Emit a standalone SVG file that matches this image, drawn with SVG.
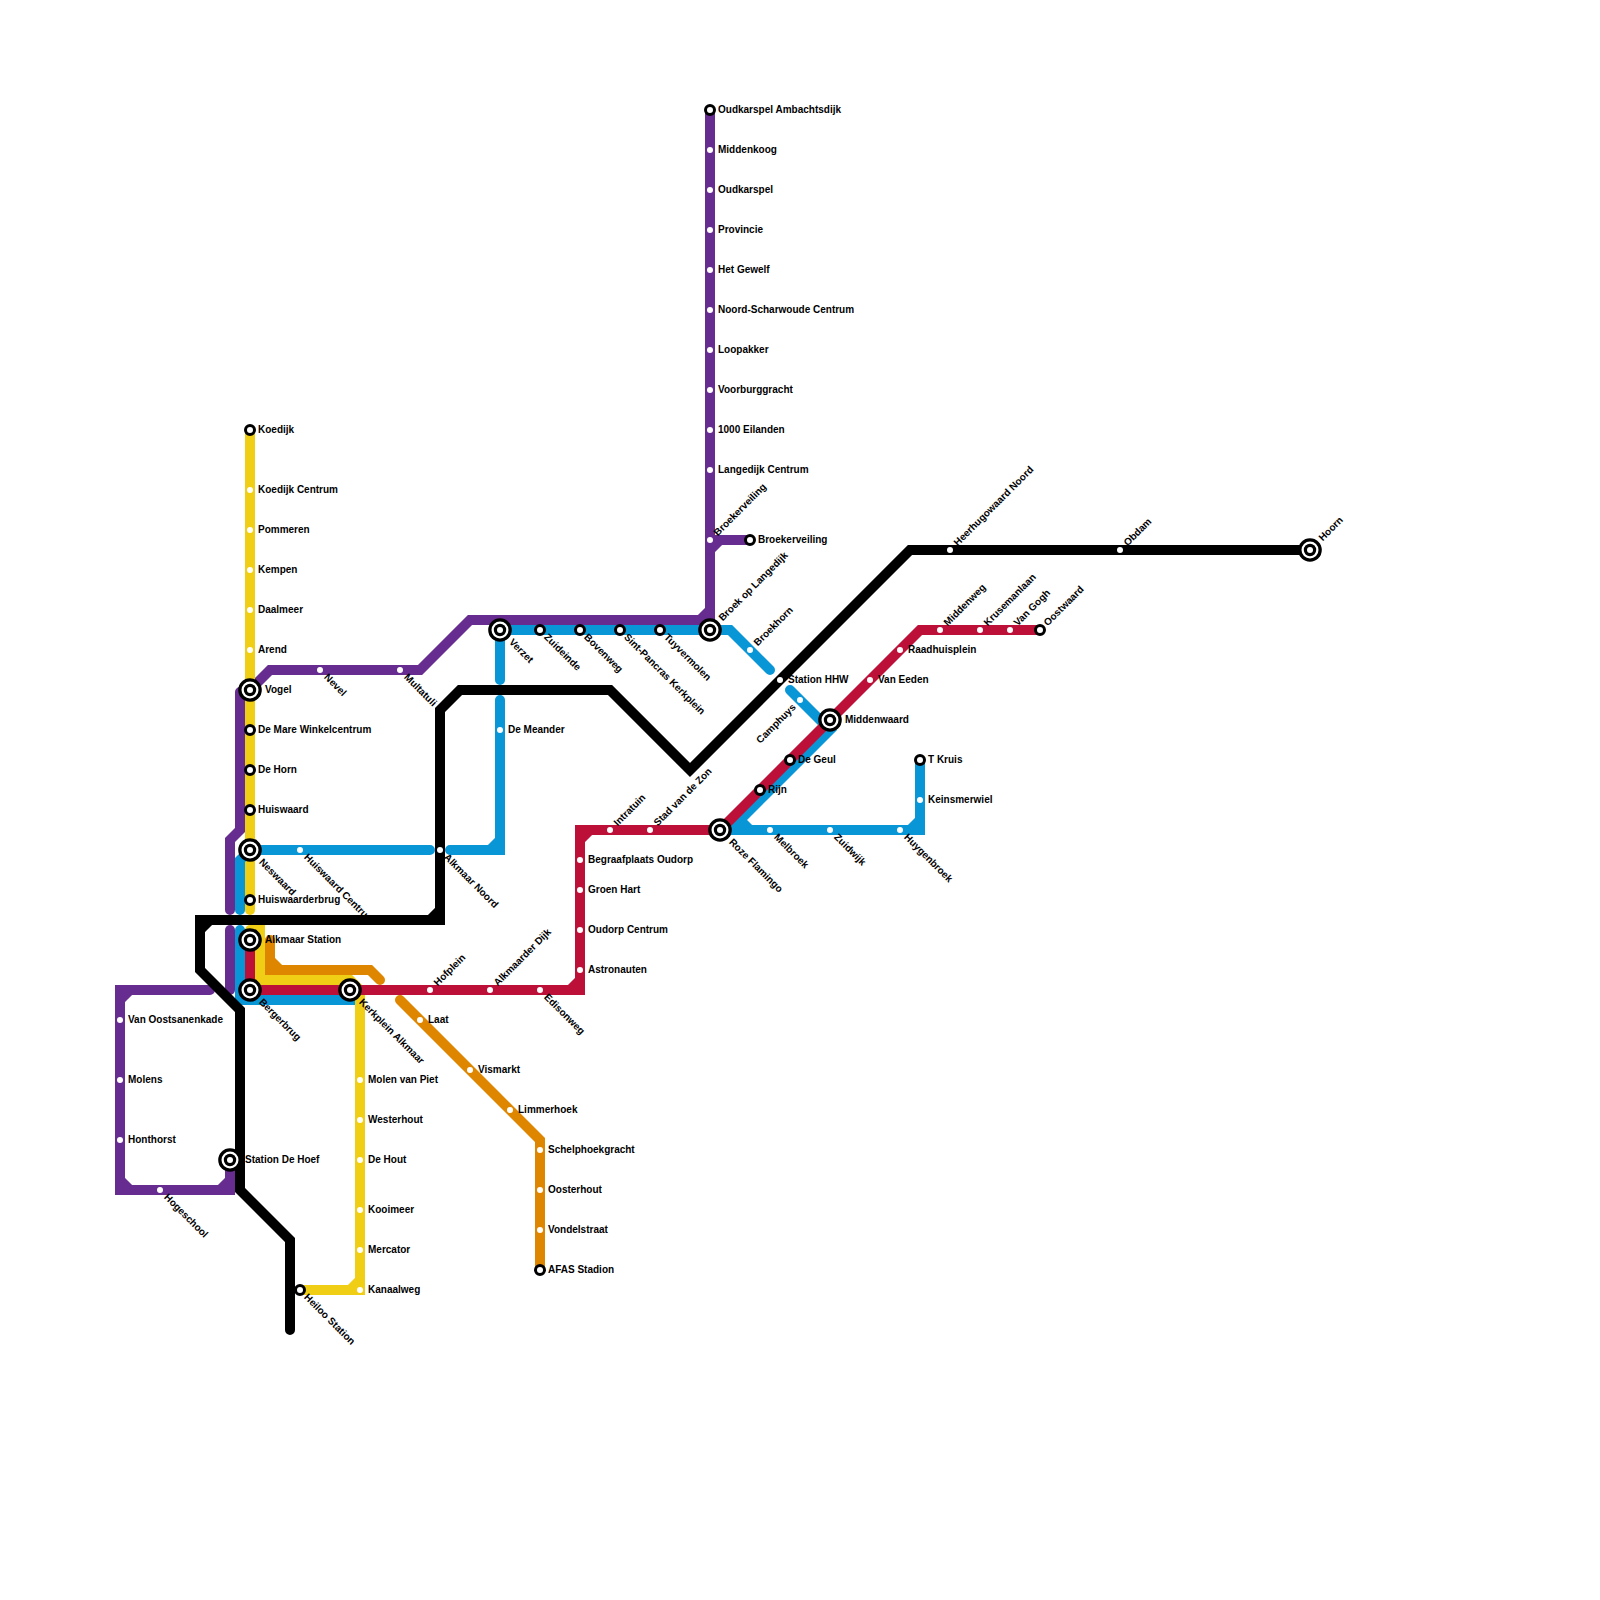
<svg xmlns="http://www.w3.org/2000/svg" width="1600" height="1600" viewBox="0 0 1600 1600">
<style>
.l{fill:none;stroke-width:10;stroke-linecap:round;stroke-linejoin:miter}
.pu{stroke:#662c90}.ye{stroke:#f0ce15}.bl{stroke:#0896d7}.re{stroke:#bd1038}.or{stroke:#df8600}.bk{stroke:#000}
text{font-family:"Liberation Sans",Arial,sans-serif;font-size:10px;font-weight:700;fill:#000}
.d{fill:#fff}
.r{fill:#fff;stroke:#000;stroke-width:3}
</style>
<defs>
<g id="hub"><circle r="11.8" fill="#000"/><circle r="8.5" fill="#fff"/><circle r="6.2" fill="#000"/><circle r="3" fill="#fff"/></g>
</defs>
<rect width="1600" height="1600" fill="#fff"/>
<g id="connectors">
<path class="l pu" d="M710 110V620H470L420 670H270L250 690M240 692V830L230 840V910M700 620L710 610"/>
<path class="l pu" d="M710 540H750M710 550L720 540"/>
<path class="l pu" d="M230 930V990"/>
<path class="l pu" d="M210 990H120V1190H230V1160M120 1000L130 990M120 1180L130 1190M220 1190L230 1180"/>
<path class="l ye" d="M250 430V910"/>
<path class="l ye" d="M250 930H260V980H350L360 990V1290H300M350 1290L360 1280"/>
<path class="l or" d="M270 940V970H370L380 980M270 960L280 970"/>
<path class="l or" d="M400 1000L540 1140V1270"/>
<path class="l bl" d="M430 850H250L240 860V910"/>
<path class="l bl" d="M240 930V1000H350V990"/>
<path class="l bl" d="M500 680V630H730L770 670"/>
<path class="l bl" d="M500 700V850H450M490 850L500 840"/>
<path class="l bl" d="M790 690L830 730L730 830M740 820L750 830M720 830H920V760M910 830L920 820"/>
<path class="l re" d="M250 940V990H580V830H720L830 720L920 630H1040M570 990L580 980M580 840L590 830"/>
<path class="l bk" d="M290 1330V1240L240 1190V1010L200 970V920H440V710L460 690H610L690 770L910 550H1310M200 930L210 920M430 920L440 910"/>
</g>
<g id="n01"><circle class="r" cx="710" cy="110" r="4.5"/><text x="718" y="113">Oudkarspel Ambachtsdijk</text></g>
<g id="n02"><circle class="d" cx="710" cy="150" r="3"/><text x="718" y="153">Middenkoog</text></g>
<g id="n03"><circle class="d" cx="710" cy="190" r="3"/><text x="718" y="193">Oudkarspel</text></g>
<g id="n04"><circle class="d" cx="710" cy="230" r="3"/><text x="718" y="233">Provincie</text></g>
<g id="n05"><circle class="d" cx="710" cy="270" r="3"/><text x="718" y="273">Het Gewelf</text></g>
<g id="n06"><circle class="d" cx="710" cy="310" r="3"/><text x="718" y="313">Noord-Scharwoude Centrum</text></g>
<g id="n07"><circle class="d" cx="710" cy="350" r="3"/><text x="718" y="353">Loopakker</text></g>
<g id="n08"><circle class="d" cx="710" cy="390" r="3"/><text x="718" y="393">Voorburggracht</text></g>
<g id="n09"><circle class="d" cx="710" cy="430" r="3"/><text x="718" y="433">1000 Eilanden</text></g>
<g id="n10"><circle class="d" cx="710" cy="470" r="3"/><text x="718" y="473">Langedijk Centrum</text></g>
<g id="n11"><circle class="d" cx="710" cy="540" r="3"/><text x="718" y="543" transform="rotate(-45 710 540)">Broekerveiling</text></g>
<g id="n12"><circle class="r" cx="750" cy="540" r="4.5"/><text x="758" y="543">Broekerveiling</text></g>
<g id="n13"><use href="#hub" x="710" y="630"/><text x="725" y="633" transform="rotate(-45 710 630)">Broek op Langedijk</text></g>
<g id="n14"><circle class="r" cx="660" cy="630" r="4.5"/><text x="668" y="633" transform="rotate(45 660 630)">Tuyvermolen</text></g>
<g id="n15"><circle class="r" cx="620" cy="630" r="4.5"/><text x="628" y="633" transform="rotate(45 620 630)">Sint-Pancras Kerkplein</text></g>
<g id="n16"><circle class="r" cx="580" cy="630" r="4.5"/><text x="588" y="633" transform="rotate(45 580 630)">Bovenweg</text></g>
<g id="n17"><circle class="r" cx="540" cy="630" r="4.5"/><text x="548" y="633" transform="rotate(45 540 630)">Zuideinde</text></g>
<g id="n18"><use href="#hub" x="500" y="630"/><text x="515" y="633" transform="rotate(45 500 630)">Verzet</text></g>
<g id="n19"><circle class="d" cx="400" cy="670" r="3"/><text x="408" y="673" transform="rotate(45 400 670)">Multatuli</text></g>
<g id="n20"><circle class="d" cx="320" cy="670" r="3"/><text x="328" y="673" transform="rotate(45 320 670)">Nevel</text></g>
<g id="n21"><circle class="r" cx="250" cy="430" r="4.5"/><text x="258" y="433">Koedijk</text></g>
<g id="n22"><circle class="d" cx="250" cy="490" r="3"/><text x="258" y="493">Koedijk Centrum</text></g>
<g id="n23"><circle class="d" cx="250" cy="530" r="3"/><text x="258" y="533">Pommeren</text></g>
<g id="n24"><circle class="d" cx="250" cy="570" r="3"/><text x="258" y="573">Kempen</text></g>
<g id="n25"><circle class="d" cx="250" cy="610" r="3"/><text x="258" y="613">Daalmeer</text></g>
<g id="n26"><circle class="d" cx="250" cy="650" r="3"/><text x="258" y="653">Arend</text></g>
<g id="n27"><use href="#hub" x="250" y="690"/><text x="265" y="693">Vogel</text></g>
<g id="n28"><circle class="r" cx="250" cy="730" r="4.5"/><text x="258" y="733">De Mare Winkelcentrum</text></g>
<g id="n29"><circle class="r" cx="250" cy="770" r="4.5"/><text x="258" y="773">De Horn</text></g>
<g id="n30"><circle class="r" cx="250" cy="810" r="4.5"/><text x="258" y="813">Huiswaard</text></g>
<g id="n31"><use href="#hub" x="250" y="850"/><text x="265" y="853" transform="rotate(45 250 850)">Neswaard</text></g>
<g id="n32"><circle class="d" cx="300" cy="850" r="3"/><text x="308" y="853" transform="rotate(45 300 850)">Huiswaard Centrum</text></g>
<g id="n33"><circle class="r" cx="250" cy="900" r="4.5"/><text x="258" y="903">Huiswaarderbrug</text></g>
<g id="n34"><use href="#hub" x="250" y="940"/><text x="265" y="943">Alkmaar Station</text></g>
<g id="n35"><use href="#hub" x="250" y="990"/><text x="265" y="993" transform="rotate(45 250 990)">Bergerbrug</text></g>
<g id="n36"><use href="#hub" x="350" y="990"/><text x="365" y="993" transform="rotate(45 350 990)">Kerkplein Alkmaar</text></g>
<g id="n37"><circle class="d" cx="360" cy="1080" r="3"/><text x="368" y="1083">Molen van Piet</text></g>
<g id="n38"><circle class="d" cx="360" cy="1120" r="3"/><text x="368" y="1123">Westerhout</text></g>
<g id="n39"><circle class="d" cx="360" cy="1160" r="3"/><text x="368" y="1163">De Hout</text></g>
<g id="n40"><circle class="d" cx="360" cy="1210" r="3"/><text x="368" y="1213">Kooimeer</text></g>
<g id="n41"><circle class="d" cx="360" cy="1250" r="3"/><text x="368" y="1253">Mercator</text></g>
<g id="n42"><circle class="d" cx="360" cy="1290" r="3"/><text x="368" y="1293">Kanaalweg</text></g>
<g id="n43"><circle class="r" cx="300" cy="1290" r="4.5"/><text x="308" y="1293" transform="rotate(45 300 1290)">Heiloo Station</text></g>
<g id="n44"><use href="#hub" x="230" y="1160"/><text x="245" y="1163">Station De Hoef</text></g>
<g id="n45"><circle class="d" cx="160" cy="1190" r="3"/><text x="168" y="1193" transform="rotate(45 160 1190)">Hogeschool</text></g>
<g id="n46"><circle class="d" cx="120" cy="1140" r="3"/><text x="128" y="1143">Honthorst</text></g>
<g id="n47"><circle class="d" cx="120" cy="1080" r="3"/><text x="128" y="1083">Molens</text></g>
<g id="n48"><circle class="d" cx="120" cy="1020" r="3"/><text x="128" y="1023">Van Oostsanenkade</text></g>
<g id="n49"><circle class="d" cx="420" cy="1020" r="3"/><text x="428" y="1023">Laat</text></g>
<g id="n50"><circle class="d" cx="470" cy="1070" r="3"/><text x="478" y="1073">Vismarkt</text></g>
<g id="n51"><circle class="d" cx="510" cy="1110" r="3"/><text x="518" y="1113">Limmerhoek</text></g>
<g id="n52"><circle class="d" cx="540" cy="1150" r="3"/><text x="548" y="1153">Schelphoekgracht</text></g>
<g id="n53"><circle class="d" cx="540" cy="1190" r="3"/><text x="548" y="1193">Oosterhout</text></g>
<g id="n54"><circle class="d" cx="540" cy="1230" r="3"/><text x="548" y="1233">Vondelstraat</text></g>
<g id="n55"><circle class="r" cx="540" cy="1270" r="4.5"/><text x="548" y="1273">AFAS Stadion</text></g>
<g id="n56"><circle class="d" cx="430" cy="990" r="3"/><text x="438" y="993" transform="rotate(-45 430 990)">Hofplein</text></g>
<g id="n57"><circle class="d" cx="490" cy="990" r="3"/><text x="498" y="993" transform="rotate(-45 490 990)">Alkmaarder Dijk</text></g>
<g id="n58"><circle class="d" cx="540" cy="990" r="3"/><text x="548" y="993" transform="rotate(45 540 990)">Edisonweg</text></g>
<g id="n59"><circle class="d" cx="580" cy="970" r="3"/><text x="588" y="973">Astronauten</text></g>
<g id="n60"><circle class="d" cx="580" cy="930" r="3"/><text x="588" y="933">Oudorp Centrum</text></g>
<g id="n61"><circle class="d" cx="580" cy="890" r="3"/><text x="588" y="893">Groen Hart</text></g>
<g id="n62"><circle class="d" cx="580" cy="860" r="3"/><text x="588" y="863">Begraafplaats Oudorp</text></g>
<g id="n63"><circle class="d" cx="610" cy="830" r="3"/><text x="618" y="833" transform="rotate(-45 610 830)">Intratuin</text></g>
<g id="n64"><circle class="d" cx="650" cy="830" r="3"/><text x="658" y="833" transform="rotate(-45 650 830)">Stad van de Zon</text></g>
<g id="n65"><use href="#hub" x="720" y="830"/><text x="735" y="833" transform="rotate(45 720 830)">Roze Flamingo</text></g>
<g id="n66"><circle class="r" cx="760" cy="790" r="4.5"/><text x="768" y="793">Rijn</text></g>
<g id="n67"><circle class="r" cx="790" cy="760" r="4.5"/><text x="798" y="763">De Geul</text></g>
<g id="n68"><use href="#hub" x="830" y="720"/><text x="845" y="723">Middenwaard</text></g>
<g id="n69"><circle class="d" cx="870" cy="680" r="3"/><text x="878" y="683">Van Eeden</text></g>
<g id="n70"><circle class="d" cx="900" cy="650" r="3"/><text x="908" y="653">Raadhuisplein</text></g>
<g id="n71"><circle class="d" cx="940" cy="630" r="3"/><text x="948" y="633" transform="rotate(-45 940 630)">Middenweg</text></g>
<g id="n72"><circle class="d" cx="980" cy="630" r="3"/><text x="988" y="633" transform="rotate(-45 980 630)">Krusemanlaan</text></g>
<g id="n73"><circle class="d" cx="1010" cy="630" r="3"/><text x="1018" y="633" transform="rotate(-45 1010 630)">Van Gogh</text></g>
<g id="n74"><circle class="r" cx="1040" cy="630" r="4.5"/><text x="1048" y="633" transform="rotate(-45 1040 630)">Oostwaard</text></g>
<g id="n75"><circle class="d" cx="750" cy="650" r="3"/><text x="758" y="653" transform="rotate(-45 750 650)">Broekhorn</text></g>
<g id="n76"><circle class="d" cx="800" cy="700" r="3"/><text x="792" y="703" text-anchor="end" transform="rotate(-45 800 700)">Camphuys</text></g>
<g id="n77"><circle class="d" cx="770" cy="830" r="3"/><text x="778" y="833" transform="rotate(45 770 830)">Melbroek</text></g>
<g id="n78"><circle class="d" cx="830" cy="830" r="3"/><text x="838" y="833" transform="rotate(45 830 830)">Zuidwijk</text></g>
<g id="n79"><circle class="d" cx="900" cy="830" r="3"/><text x="908" y="833" transform="rotate(45 900 830)">Huygenbroek</text></g>
<g id="n80"><circle class="d" cx="920" cy="800" r="3"/><text x="928" y="803">Keinsmerwiel</text></g>
<g id="n81"><circle class="r" cx="920" cy="760" r="4.5"/><text x="928" y="763">T Kruis</text></g>
<g id="n82"><circle class="d" cx="500" cy="730" r="3"/><text x="508" y="733">De Meander</text></g>
<g id="n83"><circle class="d" cx="440" cy="850" r="3"/><text x="448" y="853" transform="rotate(45 440 850)">Alkmaar Noord</text></g>
<g id="n84"><circle class="d" cx="780" cy="680" r="3"/><text x="788" y="683">Station HHW</text></g>
<g id="n85"><circle class="d" cx="950" cy="550" r="3"/><text x="958" y="553" transform="rotate(-45 950 550)">Heerhugowaard Noord</text></g>
<g id="n86"><circle class="d" cx="1120" cy="550" r="3"/><text x="1128" y="553" transform="rotate(-45 1120 550)">Obdam</text></g>
<g id="n87"><use href="#hub" x="1310" y="550"/><text x="1325" y="553" transform="rotate(-45 1310 550)">Hoorn</text></g>
</svg>
